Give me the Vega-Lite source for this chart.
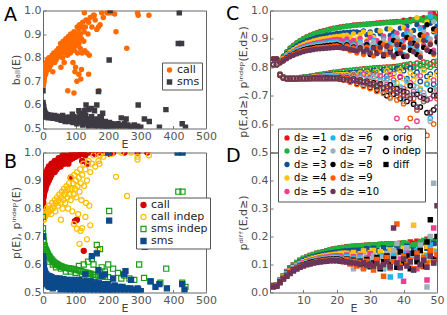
{
"$schema":"https://vega.github.io/schema/vega-lite/v6.json",
"padding":{"left":3,"top":3.5,"right":2,"bottom":1},
"config":{"font":"DejaVu Sans","view":{"stroke":"#666","strokeWidth":1},
"axis":{"grid":false,"domain":false,"labelFontSize":11,"labelColor":"#555","titleFontSize":11,"titleColor":"#444","titleFontWeight":"normal","tickColor":"#777","tickSize":-3,"labelPadding":5,"titlePadding":2,"labelFlush":false,"labelOverlap":false},
"axisX":{"titlePadding":-3},
"title":{"fontSize":19,"fontWeight":"normal","anchor":"start","color":"#000","offset":0,"baseline":"alphabetic","frame":"group"},
"legend":{"title":null,"strokeColor":"#555","fillColor":"#fff","labelFontSize":11,"labelColor":"#222","rowPadding":0,"columnPadding":0,"symbolOffset":0,"labelOffset":2,"cornerRadius":0}},
"columns":2,"spacing":{"row":0,"column":64},"bounds":"flush",
"resolve":{"scale":{"x":"independent","y":"independent","color":"independent","shape":"independent","fill":"independent","stroke":"independent"}},
"datasets":{
"A":[
{"s":"call","E":1,"b":0.68},{"s":"call","E":1,"b":0.70},{"s":"call","E":2,"b":0.69},{"s":"call","E":2,"b":0.72},{"s":"call","E":3,"b":0.70},{"s":"call","E":3,"b":0.74},{"s":"call","E":4,"b":0.71},{"s":"call","E":4,"b":0.75},{"s":"call","E":5,"b":0.72},{"s":"call","E":6,"b":0.73},{"s":"call","E":6,"b":0.76},{"s":"call","E":7,"b":0.74},{"s":"call","E":8,"b":0.73},{"s":"call","E":8,"b":0.77},{"s":"call","E":9,"b":0.75},{"s":"call","E":10,"b":0.74},{"s":"call","E":10,"b":0.78},{"s":"call","E":12,"b":0.75},{"s":"call","E":12,"b":0.77},{"s":"call","E":14,"b":0.76},{"s":"call","E":14,"b":0.79},{"s":"call","E":16,"b":0.75},{"s":"call","E":16,"b":0.78},{"s":"call","E":18,"b":0.77},{"s":"call","E":18,"b":0.80},{"s":"call","E":20,"b":0.76},{"s":"call","E":20,"b":0.79},{"s":"call","E":22,"b":0.78},{"s":"call","E":24,"b":0.77},{"s":"call","E":24,"b":0.80},{"s":"call","E":26,"b":0.79},{"s":"call","E":28,"b":0.78},{"s":"call","E":28,"b":0.81},{"s":"call","E":30,"b":0.74},{"s":"call","E":30,"b":0.80},{"s":"call","E":33,"b":0.79},{"s":"call","E":33,"b":0.82},{"s":"call","E":36,"b":0.80},{"s":"call","E":36,"b":0.78},{"s":"call","E":39,"b":0.81},{"s":"call","E":40,"b":0.79},{"s":"call","E":42,"b":0.83},{"s":"call","E":44,"b":0.80},{"s":"call","E":46,"b":0.82},{"s":"call","E":48,"b":0.84},{"s":"call","E":50,"b":0.81},{"s":"call","E":52,"b":0.83},{"s":"call","E":54,"b":0.86},{"s":"call","E":55,"b":0.76},{"s":"call","E":56,"b":0.82},{"s":"call","E":58,"b":0.85},{"s":"call","E":60,"b":0.84},{"s":"call","E":60,"b":0.80},{"s":"call","E":62,"b":0.87},{"s":"call","E":64,"b":0.83},{"s":"call","E":66,"b":0.86},{"s":"call","E":68,"b":0.82},{"s":"call","E":70,"b":0.85},{"s":"call","E":70,"b":0.88},{"s":"call","E":72,"b":0.84},{"s":"call","E":74,"b":0.87},{"s":"call","E":75,"b":0.81},{"s":"call","E":76,"b":0.85},{"s":"call","E":78,"b":0.89},{"s":"call","E":80,"b":0.83},{"s":"call","E":80,"b":0.86},{"s":"call","E":82,"b":0.88},{"s":"call","E":84,"b":0.82},{"s":"call","E":85,"b":0.90},{"s":"call","E":86,"b":0.85},{"s":"call","E":88,"b":0.87},{"s":"call","E":90,"b":0.84},{"s":"call","E":90,"b":0.89},{"s":"call","E":92,"b":0.78},{"s":"call","E":94,"b":0.86},{"s":"call","E":95,"b":0.91},{"s":"call","E":96,"b":0.83},{"s":"call","E":98,"b":0.88},{"s":"call","E":100,"b":0.85},{"s":"call","E":100,"b":0.76},{"s":"call","E":102,"b":0.90},{"s":"call","E":104,"b":0.87},{"s":"call","E":105,"b":0.93},{"s":"call","E":106,"b":0.82},{"s":"call","E":108,"b":0.89},{"s":"call","E":110,"b":0.86},{"s":"call","E":110,"b":0.92},{"s":"call","E":112,"b":0.94},{"s":"call","E":114,"b":0.84},{"s":"call","E":115,"b":0.90},{"s":"call","E":118,"b":0.88},{"s":"call","E":120,"b":0.93},{"s":"call","E":120,"b":0.82},{"s":"call","E":122,"b":0.95},{"s":"call","E":125,"b":0.87},{"s":"call","E":126,"b":0.91},{"s":"call","E":128,"b":0.83},{"s":"call","E":130,"b":0.93},{"s":"call","E":132,"b":0.96},{"s":"call","E":135,"b":0.82},{"s":"call","E":138,"b":0.90},{"s":"call","E":140,"b":0.95},{"s":"call","E":142,"b":0.81},{"s":"call","E":145,"b":0.97},{"s":"call","E":150,"b":0.93},{"s":"call","E":155,"b":0.98},{"s":"call","E":160,"b":0.96},{"s":"call","E":165,"b":0.92},{"s":"call","E":175,"b":0.94},{"s":"call","E":185,"b":0.97},
{"s":"call","E":76,"b":0.66},{"s":"call","E":95,"b":0.65},{"s":"call","E":172,"b":0.66},{"s":"call","E":104,"b":0.70},{"s":"call","E":116,"b":0.71},{"s":"call","E":110,"b":0.73},{"s":"call","E":140,"b":0.73},{"s":"call","E":224,"b":0.91},{"s":"call","E":257,"b":0.84},{"s":"call","E":127,"b":0.99},{"s":"call","E":157,"b":0.98},{"s":"call","E":196,"b":0.99},{"s":"call","E":200,"b":0.99},{"s":"call","E":205,"b":0.99},{"s":"call","E":212,"b":0.99},{"s":"call","E":220,"b":0.985},{"s":"call","E":290,"b":0.99},{"s":"call","E":292,"b":0.98},{"s":"call","E":325,"b":0.98},{"s":"call","E":98,"b":0.74},{"s":"call","E":65,"b":0.78},{"s":"call","E":118,"b":0.75},{"s":"call","E":170,"b":0.93},{"s":"call","E":180,"b":0.99},
{"s":"sms","E":0,"b":0.61},{"s":"sms","E":0,"b":0.59},{"s":"sms","E":0,"b":0.57},{"s":"sms","E":0,"b":0.55},{"s":"sms","E":1,"b":0.60},{"s":"sms","E":1,"b":0.58},{"s":"sms","E":1,"b":0.56},{"s":"sms","E":2,"b":0.59},{"s":"sms","E":2,"b":0.57},{"s":"sms","E":3,"b":0.58},{"s":"sms","E":3,"b":0.56},{"s":"sms","E":4,"b":0.575},{"s":"sms","E":5,"b":0.57},{"s":"sms","E":5,"b":0.555},{"s":"sms","E":7,"b":0.565},{"s":"sms","E":8,"b":0.55},{"s":"sms","E":10,"b":0.56},{"s":"sms","E":12,"b":0.55},{"s":"sms","E":14,"b":0.558},{"s":"sms","E":16,"b":0.545},{"s":"sms","E":18,"b":0.555},{"s":"sms","E":20,"b":0.548},{"s":"sms","E":23,"b":0.556},{"s":"sms","E":26,"b":0.545},{"s":"sms","E":29,"b":0.553},{"s":"sms","E":32,"b":0.543},{"s":"sms","E":35,"b":0.555},{"s":"sms","E":38,"b":0.545},{"s":"sms","E":41,"b":0.552},{"s":"sms","E":44,"b":0.54},{"s":"sms","E":47,"b":0.55},{"s":"sms","E":50,"b":0.54},{"s":"sms","E":53,"b":0.548},{"s":"sms","E":56,"b":0.535},{"s":"sms","E":59,"b":0.55},{"s":"sms","E":62,"b":0.54},{"s":"sms","E":65,"b":0.545},{"s":"sms","E":68,"b":0.53},{"s":"sms","E":71,"b":0.548},{"s":"sms","E":74,"b":0.537},{"s":"sms","E":77,"b":0.545},{"s":"sms","E":80,"b":0.53},{"s":"sms","E":83,"b":0.548},{"s":"sms","E":86,"b":0.535},{"s":"sms","E":89,"b":0.543},{"s":"sms","E":92,"b":0.525},{"s":"sms","E":95,"b":0.55},{"s":"sms","E":98,"b":0.535},{"s":"sms","E":101,"b":0.545},{"s":"sms","E":104,"b":0.52},{"s":"sms","E":107,"b":0.54},{"s":"sms","E":110,"b":0.53},{"s":"sms","E":113,"b":0.56},{"s":"sms","E":116,"b":0.525},{"s":"sms","E":119,"b":0.545},{"s":"sms","E":122,"b":0.515},{"s":"sms","E":125,"b":0.54},{"s":"sms","E":128,"b":0.53},{"s":"sms","E":131,"b":0.555},{"s":"sms","E":134,"b":0.52},{"s":"sms","E":137,"b":0.54},{"s":"sms","E":140,"b":0.51},{"s":"sms","E":143,"b":0.535},{"s":"sms","E":146,"b":0.525},{"s":"sms","E":149,"b":0.55},{"s":"sms","E":152,"b":0.515},{"s":"sms","E":155,"b":0.53},{"s":"sms","E":158,"b":0.505},{"s":"sms","E":161,"b":0.54},{"s":"sms","E":164,"b":0.52},{"s":"sms","E":167,"b":0.535},{"s":"sms","E":170,"b":0.51},{"s":"sms","E":173,"b":0.53},{"s":"sms","E":176,"b":0.515},{"s":"sms","E":179,"b":0.545},{"s":"sms","E":182,"b":0.505},{"s":"sms","E":185,"b":0.525},{"s":"sms","E":188,"b":0.51},{"s":"sms","E":191,"b":0.53},{"s":"sms","E":194,"b":0.50},{"s":"sms","E":197,"b":0.52},{"s":"sms","E":200,"b":0.51},{"s":"sms","E":204,"b":0.525},{"s":"sms","E":208,"b":0.505},{"s":"sms","E":212,"b":0.52},{"s":"sms","E":216,"b":0.50},{"s":"sms","E":220,"b":0.515},{"s":"sms","E":225,"b":0.505},{"s":"sms","E":230,"b":0.52},{"s":"sms","E":235,"b":0.50},{"s":"sms","E":240,"b":0.515},{"s":"sms","E":245,"b":0.505},{"s":"sms","E":250,"b":0.52},{"s":"sms","E":255,"b":0.50},{"s":"sms","E":260,"b":0.515},{"s":"sms","E":265,"b":0.505},{"s":"sms","E":270,"b":0.51},{"s":"sms","E":275,"b":0.50},{"s":"sms","E":280,"b":0.515},{"s":"sms","E":285,"b":0.505},{"s":"sms","E":290,"b":0.51},{"s":"sms","E":295,"b":0.50},{"s":"sms","E":300,"b":0.505},
{"s":"sms","E":0,"b":0.66},{"s":"sms","E":110,"b":0.575},{"s":"sms","E":118,"b":0.565},{"s":"sms","E":128,"b":0.575},{"s":"sms","E":132,"b":0.60},{"s":"sms","E":140,"b":0.58},{"s":"sms","E":148,"b":0.585},{"s":"sms","E":158,"b":0.575},{"s":"sms","E":165,"b":0.60},{"s":"sms","E":170,"b":0.657},{"s":"sms","E":183,"b":0.565},{"s":"sms","E":203,"b":0.79},{"s":"sms","E":206,"b":1.0},{"s":"sms","E":292,"b":0.60},{"s":"sms","E":377,"b":0.58},{"s":"sms","E":418,"b":0.99},{"s":"sms","E":415,"b":0.86},{"s":"sms","E":425,"b":0.86},{"s":"sms","E":427,"b":0.52},{"s":"sms","E":437,"b":0.505},{"s":"sms","E":357,"b":0.505},{"s":"sms","E":311,"b":0.54},{"s":"sms","E":326,"b":0.53},{"s":"sms","E":255,"b":0.54},{"s":"sms","E":240,"b":0.545},{"s":"sms","E":175,"b":0.55},{"s":"sms","E":60,"b":0.555},{"s":"sms","E":90,"b":0.56}
],
"B":[
{"s":"call","E":0,"p":0.80},{"s":"call","E":0,"p":0.83},{"s":"call","E":0,"p":0.85},{"s":"call","E":1,"p":0.82},{"s":"call","E":1,"p":0.86},{"s":"call","E":2,"p":0.84},{"s":"call","E":2,"p":0.88},{"s":"call","E":3,"p":0.85},{"s":"call","E":3,"p":0.89},{"s":"call","E":4,"p":0.87},{"s":"call","E":4,"p":0.90},{"s":"call","E":5,"p":0.86},{"s":"call","E":5,"p":0.91},{"s":"call","E":6,"p":0.88},{"s":"call","E":7,"p":0.89},{"s":"call","E":7,"p":0.92},{"s":"call","E":8,"p":0.87},{"s":"call","E":9,"p":0.90},{"s":"call","E":10,"p":0.88},{"s":"call","E":10,"p":0.93},{"s":"call","E":12,"p":0.90},{"s":"call","E":12,"p":0.92},{"s":"call","E":14,"p":0.89},{"s":"call","E":14,"p":0.94},{"s":"call","E":16,"p":0.91},{"s":"call","E":18,"p":0.90},{"s":"call","E":18,"p":0.95},{"s":"call","E":20,"p":0.92},{"s":"call","E":22,"p":0.91},{"s":"call","E":22,"p":0.94},{"s":"call","E":24,"p":0.93},{"s":"call","E":26,"p":0.92},{"s":"call","E":26,"p":0.96},{"s":"call","E":28,"p":0.94},{"s":"call","E":30,"p":0.93},{"s":"call","E":30,"p":0.96},{"s":"call","E":33,"p":0.95},{"s":"call","E":36,"p":0.93},{"s":"call","E":36,"p":0.97},{"s":"call","E":39,"p":0.95},{"s":"call","E":42,"p":0.94},{"s":"call","E":42,"p":0.97},{"s":"call","E":45,"p":0.96},{"s":"call","E":48,"p":0.95},{"s":"call","E":48,"p":0.98},{"s":"call","E":51,"p":0.96},{"s":"call","E":54,"p":0.97},{"s":"call","E":54,"p":0.95},{"s":"call","E":57,"p":0.98},{"s":"call","E":60,"p":0.96},{"s":"call","E":60,"p":0.99},{"s":"call","E":63,"p":0.97},{"s":"call","E":66,"p":0.98},{"s":"call","E":66,"p":0.96},{"s":"call","E":69,"p":0.99},{"s":"call","E":72,"p":0.97},{"s":"call","E":75,"p":0.985},{"s":"call","E":78,"p":0.96},{"s":"call","E":80,"p":0.99},{"s":"call","E":84,"p":0.975},{"s":"call","E":88,"p":0.995},{"s":"call","E":92,"p":0.98},{"s":"call","E":96,"p":1.0},{"s":"call","E":100,"p":0.985},{"s":"call","E":105,"p":0.995},{"s":"call","E":110,"p":0.99},{"s":"call","E":115,"p":1.0},{"s":"call","E":120,"p":0.995},{"s":"call","E":125,"p":1.0},{"s":"call","E":130,"p":0.99},{"s":"call","E":140,"p":1.0},{"s":"call","E":150,"p":1.0},{"s":"call","E":160,"p":0.995},{"s":"call","E":175,"p":1.0},{"s":"call","E":190,"p":1.0},
{"s":"call","E":125,"p":0.649},{"s":"call","E":104,"p":0.76},{"s":"call","E":98,"p":0.755},{"s":"call","E":85,"p":0.91},{"s":"call","E":136,"p":0.96},{"s":"call","E":120,"p":0.97},{"s":"call","E":180,"p":1.0},{"s":"call","E":250,"p":1.0},{"s":"call","E":290,"p":1.0},{"s":"call","E":320,"p":1.0},{"s":"call","E":205,"p":0.995},{"s":"call","E":215,"p":1.0},
{"s":"call indep","E":1,"p":0.76},{"s":"call indep","E":2,"p":0.77},{"s":"call indep","E":3,"p":0.76},{"s":"call indep","E":5,"p":0.78},{"s":"call indep","E":6,"p":0.77},{"s":"call indep","E":8,"p":0.79},{"s":"call indep","E":10,"p":0.78},{"s":"call indep","E":12,"p":0.80},{"s":"call indep","E":14,"p":0.78},{"s":"call indep","E":16,"p":0.79},{"s":"call indep","E":18,"p":0.81},{"s":"call indep","E":20,"p":0.79},{"s":"call indep","E":22,"p":0.80},{"s":"call indep","E":25,"p":0.78},{"s":"call indep","E":28,"p":0.82},{"s":"call indep","E":30,"p":0.80},{"s":"call indep","E":33,"p":0.81},{"s":"call indep","E":36,"p":0.83},{"s":"call indep","E":38,"p":0.79},{"s":"call indep","E":40,"p":0.82},{"s":"call indep","E":43,"p":0.84},{"s":"call indep","E":46,"p":0.81},{"s":"call indep","E":48,"p":0.83},{"s":"call indep","E":50,"p":0.85},{"s":"call indep","E":53,"p":0.82},{"s":"call indep","E":55,"p":0.76},{"s":"call indep","E":56,"p":0.84},{"s":"call indep","E":58,"p":0.86},{"s":"call indep","E":60,"p":0.80},{"s":"call indep","E":62,"p":0.83},{"s":"call indep","E":64,"p":0.87},{"s":"call indep","E":66,"p":0.85},{"s":"call indep","E":68,"p":0.82},{"s":"call indep","E":70,"p":0.86},{"s":"call indep","E":72,"p":0.88},{"s":"call indep","E":75,"p":0.84},{"s":"call indep","E":77,"p":0.80},{"s":"call indep","E":78,"p":0.87},{"s":"call indep","E":80,"p":0.89},{"s":"call indep","E":82,"p":0.85},{"s":"call indep","E":85,"p":0.83},{"s":"call indep","E":86,"p":0.91},{"s":"call indep","E":88,"p":0.87},{"s":"call indep","E":90,"p":0.79},{"s":"call indep","E":92,"p":0.89},{"s":"call indep","E":94,"p":0.85},{"s":"call indep","E":96,"p":0.92},{"s":"call indep","E":98,"p":0.87},{"s":"call indep","E":100,"p":0.90},{"s":"call indep","E":102,"p":0.84},{"s":"call indep","E":104,"p":0.93},{"s":"call indep","E":106,"p":0.88},{"s":"call indep","E":108,"p":0.78},{"s":"call indep","E":110,"p":0.91},{"s":"call indep","E":112,"p":0.86},{"s":"call indep","E":114,"p":0.94},{"s":"call indep","E":116,"p":0.89},{"s":"call indep","E":118,"p":0.83},{"s":"call indep","E":120,"p":0.92},{"s":"call indep","E":124,"p":0.96},{"s":"call indep","E":126,"p":0.88},{"s":"call indep","E":130,"p":0.94},{"s":"call indep","E":132,"p":0.82},{"s":"call indep","E":135,"p":0.90},{"s":"call indep","E":140,"p":0.97},{"s":"call indep","E":142,"p":0.81},{"s":"call indep","E":145,"p":0.93},{"s":"call indep","E":150,"p":0.96},{"s":"call indep","E":155,"p":0.99},{"s":"call indep","E":160,"p":0.95},{"s":"call indep","E":170,"p":0.97},{"s":"call indep","E":175,"p":0.99},{"s":"call indep","E":185,"p":0.985},{"s":"call indep","E":195,"p":1.0},{"s":"call indep","E":210,"p":0.995},
{"s":"call indep","E":112,"p":0.674},{"s":"call indep","E":135,"p":0.69},{"s":"call indep","E":170,"p":0.655},{"s":"call indep","E":104,"p":0.728},{"s":"call indep","E":115,"p":0.72},{"s":"call indep","E":145,"p":0.74},{"s":"call indep","E":224,"p":0.913},{"s":"call indep","E":258,"p":0.845},{"s":"call indep","E":173,"p":0.96},{"s":"call indep","E":290,"p":0.985},{"s":"call indep","E":290,"p":0.975},{"s":"call indep","E":325,"p":0.99},{"s":"call indep","E":240,"p":1.0},{"s":"call indep","E":270,"p":1.0},{"s":"call indep","E":120,"p":0.73},{"s":"call indep","E":95,"p":0.745},{"s":"call indep","E":130,"p":0.77},
{"s":"sms indep","E":0,"p":0.77},{"s":"sms indep","E":0,"p":0.71},{"s":"sms indep","E":0,"p":0.73},{"s":"sms indep","E":1,"p":0.70},{"s":"sms indep","E":2,"p":0.685},{"s":"sms indep","E":3,"p":0.68},{"s":"sms indep","E":4,"p":0.67},{"s":"sms indep","E":5,"p":0.665},{"s":"sms indep","E":6,"p":0.66},{"s":"sms indep","E":8,"p":0.655},{"s":"sms indep","E":10,"p":0.65},{"s":"sms indep","E":12,"p":0.645},{"s":"sms indep","E":14,"p":0.64},{"s":"sms indep","E":16,"p":0.635},{"s":"sms indep","E":18,"p":0.63},{"s":"sms indep","E":20,"p":0.628},{"s":"sms indep","E":23,"p":0.622},{"s":"sms indep","E":26,"p":0.618},{"s":"sms indep","E":29,"p":0.614},{"s":"sms indep","E":32,"p":0.61},{"s":"sms indep","E":35,"p":0.607},{"s":"sms indep","E":38,"p":0.604},{"s":"sms indep","E":41,"p":0.602},{"s":"sms indep","E":44,"p":0.60},{"s":"sms indep","E":47,"p":0.598},{"s":"sms indep","E":50,"p":0.596},{"s":"sms indep","E":54,"p":0.594},{"s":"sms indep","E":58,"p":0.592},{"s":"sms indep","E":62,"p":0.59},{"s":"sms indep","E":66,"p":0.589},{"s":"sms indep","E":70,"p":0.588},{"s":"sms indep","E":75,"p":0.587},{"s":"sms indep","E":80,"p":0.586},{"s":"sms indep","E":85,"p":0.585},{"s":"sms indep","E":90,"p":0.584},{"s":"sms indep","E":95,"p":0.583},{"s":"sms indep","E":100,"p":0.582},{"s":"sms indep","E":106,"p":0.58},{"s":"sms indep","E":112,"p":0.578},{"s":"sms indep","E":118,"p":0.576},{"s":"sms indep","E":124,"p":0.574},{"s":"sms indep","E":130,"p":0.572},{"s":"sms indep","E":136,"p":0.57},{"s":"sms indep","E":142,"p":0.568},{"s":"sms indep","E":148,"p":0.566},{"s":"sms indep","E":154,"p":0.564},{"s":"sms indep","E":160,"p":0.562},{"s":"sms indep","E":170,"p":0.56},{"s":"sms indep","E":180,"p":0.558},{"s":"sms indep","E":190,"p":0.556},{"s":"sms indep","E":200,"p":0.555},
{"s":"sms indep","E":10,"p":0.63},{"s":"sms indep","E":20,"p":0.61},{"s":"sms indep","E":30,"p":0.60},{"s":"sms indep","E":40,"p":0.59},{"s":"sms indep","E":55,"p":0.585},{"s":"sms indep","E":70,"p":0.575},{"s":"sms indep","E":85,"p":0.575},{"s":"sms indep","E":100,"p":0.57},{"s":"sms indep","E":120,"p":0.565},{"s":"sms indep","E":140,"p":0.56},{"s":"sms indep","E":160,"p":0.555},
{"s":"sms indep","E":203,"p":0.791},{"s":"sms indep","E":415,"p":0.86},{"s":"sms indep","E":428,"p":0.86},{"s":"sms indep","E":165,"p":0.67},{"s":"sms indep","E":175,"p":0.655},{"s":"sms indep","E":295,"p":0.60},{"s":"sms indep","E":378,"p":0.585},{"s":"sms indep","E":138,"p":0.61},{"s":"sms indep","E":150,"p":0.62},{"s":"sms indep","E":125,"p":0.60},{"s":"sms indep","E":110,"p":0.595},{"s":"sms indep","E":180,"p":0.59},{"s":"sms indep","E":190,"p":0.575},{"s":"sms indep","E":215,"p":0.585},{"s":"sms indep","E":230,"p":0.57},{"s":"sms indep","E":250,"p":0.56},{"s":"sms indep","E":265,"p":0.55},{"s":"sms indep","E":280,"p":0.545},{"s":"sms indep","E":310,"p":0.552},{"s":"sms indep","E":330,"p":0.54},{"s":"sms indep","E":437,"p":0.52},{"s":"sms indep","E":427,"p":0.535},{"s":"sms indep","E":360,"p":0.535},{"s":"sms indep","E":240,"p":0.55},{"s":"sms indep","E":200,"p":0.60},{"s":"sms indep","E":155,"p":0.60},
{"s":"sms","E":0,"p":0.70},{"s":"sms","E":0,"p":0.63},{"s":"sms","E":0,"p":0.61},{"s":"sms","E":0,"p":0.59},{"s":"sms","E":0,"p":0.57},{"s":"sms","E":1,"p":0.62},{"s":"sms","E":1,"p":0.58},{"s":"sms","E":2,"p":0.60},{"s":"sms","E":2,"p":0.56},{"s":"sms","E":3,"p":0.59},{"s":"sms","E":3,"p":0.55},{"s":"sms","E":4,"p":0.58},{"s":"sms","E":5,"p":0.575},{"s":"sms","E":5,"p":0.545},{"s":"sms","E":7,"p":0.57},{"s":"sms","E":8,"p":0.54},{"s":"sms","E":10,"p":0.565},{"s":"sms","E":10,"p":0.53},{"s":"sms","E":12,"p":0.55},{"s":"sms","E":14,"p":0.56},{"s":"sms","E":15,"p":0.525},{"s":"sms","E":17,"p":0.55},{"s":"sms","E":20,"p":0.558},{"s":"sms","E":20,"p":0.52},{"s":"sms","E":23,"p":0.545},{"s":"sms","E":26,"p":0.555},{"s":"sms","E":28,"p":0.53},{"s":"sms","E":30,"p":0.515},{"s":"sms","E":33,"p":0.55},{"s":"sms","E":36,"p":0.535},{"s":"sms","E":39,"p":0.55},{"s":"sms","E":42,"p":0.52},{"s":"sms","E":45,"p":0.545},{"s":"sms","E":48,"p":0.53},{"s":"sms","E":51,"p":0.55},{"s":"sms","E":54,"p":0.51},{"s":"sms","E":57,"p":0.54},{"s":"sms","E":60,"p":0.525},{"s":"sms","E":63,"p":0.548},{"s":"sms","E":66,"p":0.515},{"s":"sms","E":69,"p":0.54},{"s":"sms","E":72,"p":0.505},{"s":"sms","E":75,"p":0.545},{"s":"sms","E":78,"p":0.525},{"s":"sms","E":81,"p":0.54},{"s":"sms","E":84,"p":0.51},{"s":"sms","E":87,"p":0.545},{"s":"sms","E":90,"p":0.52},{"s":"sms","E":93,"p":0.54},{"s":"sms","E":96,"p":0.505},{"s":"sms","E":99,"p":0.545},{"s":"sms","E":102,"p":0.525},{"s":"sms","E":105,"p":0.54},{"s":"sms","E":108,"p":0.51},{"s":"sms","E":111,"p":0.545},{"s":"sms","E":114,"p":0.52},{"s":"sms","E":117,"p":0.535},{"s":"sms","E":120,"p":0.505},{"s":"sms","E":123,"p":0.54},{"s":"sms","E":126,"p":0.525},{"s":"sms","E":129,"p":0.535},{"s":"sms","E":132,"p":0.51},{"s":"sms","E":135,"p":0.54},{"s":"sms","E":138,"p":0.52},{"s":"sms","E":141,"p":0.535},{"s":"sms","E":144,"p":0.505},{"s":"sms","E":147,"p":0.54},{"s":"sms","E":150,"p":0.52},{"s":"sms","E":153,"p":0.53},{"s":"sms","E":156,"p":0.50},{"s":"sms","E":159,"p":0.535},{"s":"sms","E":162,"p":0.515},{"s":"sms","E":165,"p":0.53},{"s":"sms","E":168,"p":0.505},{"s":"sms","E":171,"p":0.535},{"s":"sms","E":174,"p":0.515},{"s":"sms","E":177,"p":0.525},{"s":"sms","E":180,"p":0.50},{"s":"sms","E":184,"p":0.53},{"s":"sms","E":188,"p":0.51},{"s":"sms","E":192,"p":0.525},{"s":"sms","E":196,"p":0.50},{"s":"sms","E":200,"p":0.53},{"s":"sms","E":205,"p":0.51},{"s":"sms","E":210,"p":0.52},{"s":"sms","E":215,"p":0.50},{"s":"sms","E":220,"p":0.525},{"s":"sms","E":226,"p":0.505},{"s":"sms","E":232,"p":0.52},{"s":"sms","E":238,"p":0.50},{"s":"sms","E":244,"p":0.52},{"s":"sms","E":250,"p":0.505},{"s":"sms","E":256,"p":0.515},{"s":"sms","E":262,"p":0.50},{"s":"sms","E":268,"p":0.515},{"s":"sms","E":274,"p":0.505},{"s":"sms","E":280,"p":0.51},{"s":"sms","E":286,"p":0.50},{"s":"sms","E":292,"p":0.51},{"s":"sms","E":300,"p":0.505},
{"s":"sms","E":203,"p":0.757},{"s":"sms","E":312,"p":0.663},{"s":"sms","E":165,"p":0.64},{"s":"sms","E":150,"p":0.63},{"s":"sms","E":253,"p":0.576},{"s":"sms","E":248,"p":0.565},{"s":"sms","E":413,"p":1.0},{"s":"sms","E":428,"p":1.0},{"s":"sms","E":200,"p":1.0},{"s":"sms","E":427,"p":0.53},{"s":"sms","E":434,"p":0.51},{"s":"sms","E":357,"p":0.53},{"s":"sms","E":290,"p":0.515},{"s":"sms","E":180,"p":0.56},{"s":"sms","E":190,"p":0.565},{"s":"sms","E":170,"p":0.58},{"s":"sms","E":130,"p":0.565},{"s":"sms","E":215,"p":0.55},{"s":"sms","E":270,"p":0.545},{"s":"sms","E":330,"p":0.54},{"s":"sms","E":345,"p":0.52},{"s":"sms","E":380,"p":0.515}
],
"CD":[
{"d":1,"E":1,"o":0.83,"i":0.81,"f":0.025},{"d":1,"E":2,"o":0.83,"i":0.81,"f":0.028},{"d":1,"E":3,"o":0.824,"i":0.776,"f":0.045},{"d":1,"E":4,"o":0.84,"i":0.766,"f":0.06},{"d":1,"E":5,"o":0.855,"i":0.763,"f":0.075},{"d":1,"E":6,"o":0.868,"i":0.762,"f":0.088},{"d":1,"E":7,"o":0.878,"i":0.762,"f":0.098},{"d":1,"E":8,"o":0.887,"i":0.763,"f":0.107},{"d":1,"E":9,"o":0.895,"i":0.764,"f":0.115},{"d":1,"E":10,"o":0.902,"i":0.765,"f":0.122},{"d":1,"E":11,"o":0.908,"i":0.766,"f":0.127},{"d":1,"E":12,"o":0.913,"i":0.768,"f":0.132},{"d":1,"E":13,"o":0.918,"i":0.77,"f":0.136},{"d":1,"E":14,"o":0.922,"i":0.772,"f":0.14},{"d":1,"E":15,"o":0.926,"i":0.774,"f":0.143},{"d":1,"E":16,"o":0.929,"i":0.776,"f":0.146},{"d":1,"E":17,"o":0.932,"i":0.778,"f":0.149},{"d":1,"E":18,"o":0.935,"i":0.78,"f":0.152},{"d":1,"E":19,"o":0.938,"i":0.782,"f":0.155},{"d":1,"E":20,"o":0.94,"i":0.783,"f":0.157},{"d":1,"E":21,"o":0.942,"i":0.785,"f":0.159},{"d":1,"E":22,"o":0.944,"i":0.787,"f":0.161},{"d":1,"E":23,"o":0.946,"i":0.788,"f":0.163},{"d":1,"E":24,"o":0.947,"i":0.789,"f":0.164},{"d":1,"E":25,"o":0.949,"i":0.79,"f":0.165},{"d":1,"E":26,"o":0.95,"i":0.792,"f":0.166},{"d":1,"E":27,"o":0.951,"i":0.793,"f":0.167},{"d":1,"E":28,"o":0.952,"i":0.794,"f":0.168},{"d":1,"E":29,"o":0.953,"i":0.795,"f":0.169},{"d":1,"E":30,"o":0.954,"i":0.796,"f":0.17},{"d":1,"E":31,"o":0.955,"i":0.797,"f":0.171},{"d":1,"E":32,"o":0.956,"i":0.798,"f":0.171},{"d":1,"E":33,"o":0.957,"i":0.799,"f":0.172},{"d":1,"E":34,"o":0.958,"i":0.8,"f":0.172},{"d":1,"E":35,"o":0.959,"i":0.801,"f":0.173},{"d":1,"E":36,"o":0.96,"i":0.801,"f":0.173},{"d":1,"E":37,"o":0.961,"i":0.802,"f":0.174},{"d":1,"E":38,"o":0.962,"i":0.803,"f":0.174},{"d":1,"E":39,"o":0.96,"i":0.8,"f":0.176},{"d":1,"E":40,"o":0.966,"i":0.808,"f":0.172},{"d":1,"E":41,"o":0.963,"i":0.804,"f":0.168},{"d":1,"E":42,"o":0.969,"i":0.812,"f":0.18},{"d":1,"E":43,"o":0.965,"i":0.801,"f":0.176},{"d":1,"E":44,"o":0.972,"i":0.815,"f":0.183},{"d":1,"E":45,"o":0.967,"i":0.806,"f":0.165},{"d":1,"E":46,"o":0.975,"i":0.818,"f":0.178},{"d":1,"E":47,"o":0.969,"i":0.803,"f":0.19},{"d":1,"E":48,"o":0.978,"i":0.812,"f":0.172},{"d":1,"E":49,"o":0.99,"i":0.82,"f":0.185},{"d":1,"E":50,"o":0.98,"i":0.807,"f":0.178},
{"d":2,"E":1,"o":0.83,"i":0.81,"f":0.025},{"d":2,"E":2,"o":0.83,"i":0.81,"f":0.028},{"d":2,"E":3,"o":0.823,"i":0.776,"f":0.045},{"d":2,"E":4,"o":0.839,"i":0.766,"f":0.06},{"d":2,"E":5,"o":0.854,"i":0.763,"f":0.074},{"d":2,"E":6,"o":0.867,"i":0.762,"f":0.087},{"d":2,"E":7,"o":0.877,"i":0.762,"f":0.097},{"d":2,"E":8,"o":0.886,"i":0.763,"f":0.106},{"d":2,"E":9,"o":0.894,"i":0.764,"f":0.114},{"d":2,"E":10,"o":0.901,"i":0.765,"f":0.121},{"d":2,"E":11,"o":0.907,"i":0.766,"f":0.126},{"d":2,"E":12,"o":0.911,"i":0.768,"f":0.131},{"d":2,"E":13,"o":0.916,"i":0.77,"f":0.135},{"d":2,"E":14,"o":0.92,"i":0.772,"f":0.139},{"d":2,"E":15,"o":0.924,"i":0.774,"f":0.142},{"d":2,"E":16,"o":0.927,"i":0.776,"f":0.145},{"d":2,"E":17,"o":0.93,"i":0.777,"f":0.148},{"d":2,"E":18,"o":0.933,"i":0.779,"f":0.151},{"d":2,"E":19,"o":0.936,"i":0.781,"f":0.154},{"d":2,"E":20,"o":0.938,"i":0.782,"f":0.156},{"d":2,"E":21,"o":0.94,"i":0.784,"f":0.158},{"d":2,"E":22,"o":0.942,"i":0.786,"f":0.16},{"d":2,"E":23,"o":0.944,"i":0.787,"f":0.162},{"d":2,"E":24,"o":0.945,"i":0.788,"f":0.163},{"d":2,"E":25,"o":0.947,"i":0.789,"f":0.164},{"d":2,"E":26,"o":0.948,"i":0.79,"f":0.165},{"d":2,"E":27,"o":0.949,"i":0.792,"f":0.166},{"d":2,"E":28,"o":0.95,"i":0.793,"f":0.167},{"d":2,"E":29,"o":0.951,"i":0.794,"f":0.168},{"d":2,"E":30,"o":0.952,"i":0.795,"f":0.169},{"d":2,"E":31,"o":0.953,"i":0.796,"f":0.17},{"d":2,"E":32,"o":0.954,"i":0.796,"f":0.17},{"d":2,"E":33,"o":0.955,"i":0.797,"f":0.171},{"d":2,"E":34,"o":0.956,"i":0.798,"f":0.171},{"d":2,"E":35,"o":0.957,"i":0.799,"f":0.172},{"d":2,"E":36,"o":0.958,"i":0.8,"f":0.172},{"d":2,"E":37,"o":0.958,"i":0.8,"f":0.173},{"d":2,"E":38,"o":0.959,"i":0.801,"f":0.173},{"d":2,"E":39,"o":0.962,"i":0.806,"f":0.17},{"d":2,"E":40,"o":0.958,"i":0.799,"f":0.178},{"d":2,"E":41,"o":0.965,"i":0.81,"f":0.175},{"d":2,"E":42,"o":0.96,"i":0.796,"f":0.166},{"d":2,"E":43,"o":0.968,"i":0.809,"f":0.17},{"d":2,"E":44,"o":0.962,"i":0.798,"f":0.172},{"d":2,"E":45,"o":0.971,"i":0.812,"f":0.181},{"d":2,"E":46,"o":0.964,"i":0.795,"f":0.186},{"d":2,"E":47,"o":0.974,"i":0.816,"f":0.168},{"d":2,"E":48,"o":0.967,"i":0.8,"f":0.195},{"d":2,"E":49,"o":0.977,"i":0.808,"f":0.176},{"d":2,"E":50,"o":0.97,"i":0.822,"f":0.188},
{"d":3,"E":1,"o":0.83,"i":0.81,"f":0.024},{"d":3,"E":2,"o":0.83,"i":0.81,"f":0.027},{"d":3,"E":3,"o":0.821,"i":0.775,"f":0.042},{"d":3,"E":4,"o":0.835,"i":0.765,"f":0.056},{"d":3,"E":5,"o":0.848,"i":0.762,"f":0.07},{"d":3,"E":6,"o":0.859,"i":0.761,"f":0.082},{"d":3,"E":7,"o":0.867,"i":0.761,"f":0.092},{"d":3,"E":8,"o":0.875,"i":0.762,"f":0.1},{"d":3,"E":9,"o":0.882,"i":0.763,"f":0.108},{"d":3,"E":10,"o":0.888,"i":0.764,"f":0.114},{"d":3,"E":11,"o":0.893,"i":0.764,"f":0.119},{"d":3,"E":12,"o":0.897,"i":0.766,"f":0.123},{"d":3,"E":13,"o":0.901,"i":0.767,"f":0.127},{"d":3,"E":14,"o":0.905,"i":0.768,"f":0.13},{"d":3,"E":15,"o":0.908,"i":0.77,"f":0.133},{"d":3,"E":16,"o":0.91,"i":0.771,"f":0.136},{"d":3,"E":17,"o":0.913,"i":0.773,"f":0.138},{"d":3,"E":18,"o":0.915,"i":0.774,"f":0.14},{"d":3,"E":19,"o":0.917,"i":0.775,"f":0.142},{"d":3,"E":20,"o":0.919,"i":0.776,"f":0.144},{"d":3,"E":21,"o":0.92,"i":0.777,"f":0.146},{"d":3,"E":22,"o":0.922,"i":0.778,"f":0.147},{"d":3,"E":23,"o":0.923,"i":0.779,"f":0.148},{"d":3,"E":24,"o":0.924,"i":0.78,"f":0.149},{"d":3,"E":25,"o":0.925,"i":0.781,"f":0.15},{"d":3,"E":26,"o":0.925,"i":0.781,"f":0.15},{"d":3,"E":27,"o":0.922,"i":0.783,"f":0.151},{"d":3,"E":28,"o":0.928,"i":0.78,"f":0.146},{"d":3,"E":29,"o":0.915,"i":0.786,"f":0.156},{"d":3,"E":30,"o":0.925,"i":0.776,"f":0.142},{"d":3,"E":31,"o":0.91,"i":0.789,"f":0.158},{"d":3,"E":32,"o":0.93,"i":0.772,"f":0.15},{"d":3,"E":33,"o":0.918,"i":0.784,"f":0.138},{"d":3,"E":34,"o":0.905,"i":0.791,"f":0.16},{"d":3,"E":35,"o":0.935,"i":0.77,"f":0.145},{"d":3,"E":36,"o":0.912,"i":0.786,"f":0.155},{"d":3,"E":37,"o":0.925,"i":0.778,"f":0.132},{"d":3,"E":38,"o":0.9,"i":0.795,"f":0.162},{"d":3,"E":39,"o":0.938,"i":0.765,"f":0.148},{"d":3,"E":40,"o":0.915,"i":0.788,"f":0.128},{"d":3,"E":41,"o":0.945,"i":0.76,"f":0.165},{"d":3,"E":42,"o":0.905,"i":0.797,"f":0.14},{"d":3,"E":43,"o":0.93,"i":0.772,"f":0.152},{"d":3,"E":44,"o":0.95,"i":0.782,"f":0.125},{"d":3,"E":45,"o":0.912,"i":0.75,"f":0.17},{"d":3,"E":46,"o":0.94,"i":0.79,"f":0.135},{"d":3,"E":47,"o":0.895,"i":0.768,"f":0.158},{"d":3,"E":48,"o":0.955,"i":0.776,"f":0.145},{"d":3,"E":49,"o":0.925,"i":0.74,"f":0.175},{"d":3,"E":50,"o":0.945,"i":0.785,"f":0.13},
{"d":4,"E":1,"o":0.83,"i":0.81,"f":0.024},{"d":4,"E":2,"o":0.83,"i":0.81,"f":0.027},{"d":4,"E":3,"o":0.82,"i":0.775,"f":0.041},{"d":4,"E":4,"o":0.832,"i":0.764,"f":0.055},{"d":4,"E":5,"o":0.844,"i":0.762,"f":0.067},{"d":4,"E":6,"o":0.854,"i":0.761,"f":0.079},{"d":4,"E":7,"o":0.862,"i":0.761,"f":0.089},{"d":4,"E":8,"o":0.869,"i":0.762,"f":0.097},{"d":4,"E":9,"o":0.875,"i":0.762,"f":0.104},{"d":4,"E":10,"o":0.881,"i":0.763,"f":0.11},{"d":4,"E":11,"o":0.886,"i":0.763,"f":0.114},{"d":4,"E":12,"o":0.889,"i":0.764,"f":0.119},{"d":4,"E":13,"o":0.893,"i":0.766,"f":0.122},{"d":4,"E":14,"o":0.896,"i":0.767,"f":0.125},{"d":4,"E":15,"o":0.899,"i":0.768,"f":0.128},{"d":4,"E":16,"o":0.901,"i":0.769,"f":0.13},{"d":4,"E":17,"o":0.903,"i":0.77,"f":0.132},{"d":4,"E":18,"o":0.905,"i":0.771,"f":0.134},{"d":4,"E":19,"o":0.907,"i":0.772,"f":0.136},{"d":4,"E":20,"o":0.909,"i":0.773,"f":0.137},{"d":4,"E":21,"o":0.91,"i":0.774,"f":0.139},{"d":4,"E":22,"o":0.912,"i":0.774,"f":0.14},{"d":4,"E":23,"o":0.913,"i":0.775,"f":0.14},{"d":4,"E":24,"o":0.905,"i":0.77,"f":0.136},{"d":4,"E":25,"o":0.918,"i":0.778,"f":0.143},{"d":4,"E":26,"o":0.9,"i":0.768,"f":0.132},{"d":4,"E":27,"o":0.915,"i":0.78,"f":0.138},{"d":4,"E":28,"o":0.925,"i":0.765,"f":0.148},{"d":4,"E":29,"o":0.895,"i":0.782,"f":0.125},{"d":4,"E":30,"o":0.92,"i":0.772,"f":0.142},{"d":4,"E":31,"o":0.905,"i":0.76,"f":0.15},{"d":4,"E":32,"o":0.89,"i":0.785,"f":0.118},{"d":4,"E":33,"o":0.928,"i":0.77,"f":0.146},{"d":4,"E":34,"o":0.91,"i":0.752,"f":0.135},{"d":4,"E":35,"o":0.885,"i":0.788,"f":0.112},{"d":4,"E":36,"o":0.935,"i":0.765,"f":0.152},{"d":4,"E":37,"o":0.9,"i":0.775,"f":0.128},{"d":4,"E":38,"o":0.92,"i":0.745,"f":0.14},{"d":4,"E":39,"o":0.88,"i":0.79,"f":0.105},{"d":4,"E":40,"o":0.94,"i":0.76,"f":0.158},{"d":4,"E":41,"o":0.905,"i":0.735,"f":0.13},{"d":4,"E":42,"o":0.925,"i":0.78,"f":0.12},{"d":4,"E":43,"o":0.875,"i":0.755,"f":0.24},{"d":4,"E":44,"o":0.975,"i":0.77,"f":0.145},{"d":4,"E":45,"o":0.895,"i":0.725,"f":0.1},{"d":4,"E":46,"o":0.915,"i":0.79,"f":0.135},{"d":4,"E":47,"o":0.96,"i":0.745,"f":0.165},{"d":4,"E":48,"o":0.885,"i":0.765,"f":0.115},{"d":4,"E":49,"o":0.93,"i":0.715,"f":0.15},{"d":4,"E":50,"o":0.905,"i":0.775,"f":0.125},
{"d":5,"E":1,"o":0.83,"i":0.81,"f":0.023},{"d":5,"E":2,"o":0.83,"i":0.81,"f":0.026},{"d":5,"E":3,"o":0.819,"i":0.774,"f":0.04},{"d":5,"E":4,"o":0.829,"i":0.764,"f":0.053},{"d":5,"E":5,"o":0.84,"i":0.761,"f":0.065},{"d":5,"E":6,"o":0.849,"i":0.761,"f":0.076},{"d":5,"E":7,"o":0.856,"i":0.761,"f":0.085},{"d":5,"E":8,"o":0.863,"i":0.761,"f":0.093},{"d":5,"E":9,"o":0.869,"i":0.762,"f":0.1},{"d":5,"E":10,"o":0.874,"i":0.762,"f":0.106},{"d":5,"E":11,"o":0.878,"i":0.762,"f":0.11},{"d":5,"E":12,"o":0.881,"i":0.763,"f":0.114},{"d":5,"E":13,"o":0.884,"i":0.764,"f":0.117},{"d":5,"E":14,"o":0.887,"i":0.765,"f":0.12},{"d":5,"E":15,"o":0.889,"i":0.766,"f":0.123},{"d":5,"E":16,"o":0.891,"i":0.766,"f":0.125},{"d":5,"E":17,"o":0.893,"i":0.767,"f":0.127},{"d":5,"E":18,"o":0.895,"i":0.768,"f":0.129},{"d":5,"E":19,"o":0.897,"i":0.769,"f":0.13},{"d":5,"E":20,"o":0.898,"i":0.769,"f":0.131},{"d":5,"E":21,"o":0.897,"i":0.768,"f":0.13},{"d":5,"E":22,"o":0.893,"i":0.765,"f":0.126},{"d":5,"E":23,"o":0.9,"i":0.77,"f":0.134},{"d":5,"E":24,"o":0.888,"i":0.762,"f":0.12},{"d":5,"E":25,"o":0.895,"i":0.772,"f":0.128},{"d":5,"E":26,"o":0.882,"i":0.758,"f":0.115},{"d":5,"E":27,"o":0.902,"i":0.768,"f":0.132},{"d":5,"E":28,"o":0.876,"i":0.775,"f":0.11},{"d":5,"E":29,"o":0.89,"i":0.752,"f":0.125},{"d":5,"E":30,"o":0.905,"i":0.765,"f":0.138},{"d":5,"E":31,"o":0.87,"i":0.778,"f":0.105},{"d":5,"E":32,"o":0.895,"i":0.745,"f":0.122},{"d":5,"E":33,"o":0.88,"i":0.77,"f":0.095},{"d":5,"E":34,"o":0.91,"i":0.76,"f":0.13},{"d":5,"E":35,"o":0.865,"i":0.74,"f":0.115},{"d":5,"E":36,"o":0.9,"i":0.775,"f":0.088},{"d":5,"E":37,"o":0.885,"i":0.755,"f":0.14},{"d":5,"E":38,"o":0.92,"i":0.62,"f":0.105},{"d":5,"E":39,"o":0.86,"i":0.768,"f":0.12},{"d":5,"E":40,"o":0.895,"i":0.725,"f":0.04},{"d":5,"E":41,"o":0.93,"i":0.585,"f":0.15},{"d":5,"E":42,"o":0.87,"i":0.745,"f":0.098},{"d":5,"E":43,"o":0.905,"i":0.715,"f":0.13},{"d":5,"E":44,"o":0.85,"i":0.61,"f":0.085},{"d":5,"E":45,"o":0.94,"i":0.77,"f":0.16},{"d":5,"E":46,"o":0.88,"i":0.7,"f":0.11},{"d":5,"E":47,"o":0.915,"i":0.74,"f":0.045},{"d":5,"E":48,"o":0.99,"i":0.69,"f":0.14},{"d":5,"E":49,"o":0.86,"i":0.755,"f":0.23},{"d":5,"E":50,"o":0.925,"i":0.72,"f":0.12},
{"d":6,"E":1,"o":0.83,"i":0.81,"f":0.023},{"d":6,"E":2,"o":0.83,"i":0.81,"f":0.025},{"d":6,"E":3,"o":0.818,"i":0.774,"f":0.04},{"d":6,"E":4,"o":0.827,"i":0.763,"f":0.052},{"d":6,"E":5,"o":0.838,"i":0.761,"f":0.063},{"d":6,"E":6,"o":0.846,"i":0.761,"f":0.074},{"d":6,"E":7,"o":0.853,"i":0.761,"f":0.083},{"d":6,"E":8,"o":0.859,"i":0.761,"f":0.091},{"d":6,"E":9,"o":0.864,"i":0.761,"f":0.098},{"d":6,"E":10,"o":0.869,"i":0.762,"f":0.103},{"d":6,"E":11,"o":0.873,"i":0.762,"f":0.107},{"d":6,"E":12,"o":0.876,"i":0.762,"f":0.111},{"d":6,"E":13,"o":0.879,"i":0.763,"f":0.114},{"d":6,"E":14,"o":0.881,"i":0.764,"f":0.117},{"d":6,"E":15,"o":0.883,"i":0.764,"f":0.119},{"d":6,"E":16,"o":0.885,"i":0.765,"f":0.122},{"d":6,"E":17,"o":0.887,"i":0.765,"f":0.123},{"d":6,"E":18,"o":0.888,"i":0.766,"f":0.125},{"d":6,"E":19,"o":0.89,"i":0.767,"f":0.126},{"d":6,"E":20,"o":0.891,"i":0.767,"f":0.126},{"d":6,"E":21,"o":0.884,"i":0.764,"f":0.124},{"d":6,"E":22,"o":0.878,"i":0.76,"f":0.12},{"d":6,"E":23,"o":0.888,"i":0.766,"f":0.128},{"d":6,"E":24,"o":0.872,"i":0.755,"f":0.115},{"d":6,"E":25,"o":0.88,"i":0.762,"f":0.122},{"d":6,"E":26,"o":0.865,"i":0.75,"f":0.108},{"d":6,"E":27,"o":0.89,"i":0.765,"f":0.126},{"d":6,"E":28,"o":0.87,"i":0.745,"f":0.1},{"d":6,"E":29,"o":0.882,"i":0.758,"f":0.118},{"d":6,"E":30,"o":0.86,"i":0.74,"f":0.09},{"d":6,"E":31,"o":0.895,"i":0.768,"f":0.125},{"d":6,"E":32,"o":0.875,"i":0.735,"f":0.11},{"d":6,"E":33,"o":0.868,"i":0.755,"f":0.13},{"d":6,"E":34,"o":0.9,"i":0.725,"f":0.085},{"d":6,"E":35,"o":0.855,"i":0.76,"f":0.118},{"d":6,"E":36,"o":0.885,"i":0.715,"f":0.055},{"d":6,"E":37,"o":0.91,"i":0.745,"f":0.135},{"d":6,"E":38,"o":0.865,"i":0.7,"f":0.092},{"d":6,"E":39,"o":0.89,"i":0.73,"f":0.06},{"d":6,"E":40,"o":0.845,"i":0.69,"f":0.14},{"d":6,"E":41,"o":0.92,"i":0.755,"f":0.1},{"d":6,"E":42,"o":0.875,"i":0.7,"f":0.12},{"d":6,"E":43,"o":0.9,"i":0.735,"f":0.08},{"d":6,"E":44,"o":0.86,"i":0.65,"f":0.15},{"d":6,"E":45,"o":0.935,"i":0.72,"f":0.095},{"d":6,"E":46,"o":0.87,"i":0.68,"f":0.115},{"d":6,"E":47,"o":0.905,"i":0.74,"f":0.13},{"d":6,"E":48,"o":0.98,"i":0.62,"f":0.17},{"d":6,"E":49,"o":0.85,"i":0.7,"f":0.105},{"d":6,"E":50,"o":0.915,"i":0.73,"f":0.145},
{"d":7,"E":1,"o":0.83,"i":0.81,"f":0.022},{"d":7,"E":2,"o":0.83,"i":0.81,"f":0.025},{"d":7,"E":3,"o":0.817,"i":0.773,"f":0.039},{"d":7,"E":4,"o":0.826,"i":0.763,"f":0.051},{"d":7,"E":5,"o":0.836,"i":0.761,"f":0.062},{"d":7,"E":6,"o":0.844,"i":0.76,"f":0.072},{"d":7,"E":7,"o":0.85,"i":0.76,"f":0.082},{"d":7,"E":8,"o":0.856,"i":0.761,"f":0.089},{"d":7,"E":9,"o":0.861,"i":0.761,"f":0.096},{"d":7,"E":10,"o":0.865,"i":0.761,"f":0.101},{"d":7,"E":11,"o":0.869,"i":0.761,"f":0.105},{"d":7,"E":12,"o":0.872,"i":0.762,"f":0.109},{"d":7,"E":13,"o":0.874,"i":0.762,"f":0.112},{"d":7,"E":14,"o":0.877,"i":0.763,"f":0.115},{"d":7,"E":15,"o":0.878,"i":0.763,"f":0.117},{"d":7,"E":16,"o":0.88,"i":0.764,"f":0.119},{"d":7,"E":17,"o":0.881,"i":0.764,"f":0.121},{"d":7,"E":18,"o":0.883,"i":0.764,"f":0.122},{"d":7,"E":19,"o":0.884,"i":0.765,"f":0.123},{"d":7,"E":20,"o":0.885,"i":0.765,"f":0.123},{"d":7,"E":21,"o":0.879,"i":0.763,"f":0.12},{"d":7,"E":22,"o":0.872,"i":0.758,"f":0.116},{"d":7,"E":23,"o":0.882,"i":0.765,"f":0.124},{"d":7,"E":24,"o":0.866,"i":0.752,"f":0.11},{"d":7,"E":25,"o":0.875,"i":0.76,"f":0.085},{"d":7,"E":26,"o":0.86,"i":0.745,"f":0.118},{"d":7,"E":27,"o":0.884,"i":0.762,"f":0.104},{"d":7,"E":28,"o":0.868,"i":0.74,"f":0.122},{"d":7,"E":29,"o":0.855,"i":0.755,"f":0.095},{"d":7,"E":30,"o":0.878,"i":0.735,"f":0.115},{"d":7,"E":31,"o":0.89,"i":0.765,"f":0.13},{"d":7,"E":32,"o":0.85,"i":0.728,"f":0.1},{"d":7,"E":33,"o":0.872,"i":0.75,"f":0.125},{"d":7,"E":34,"o":0.895,"i":0.72,"f":0.088},{"d":7,"E":35,"o":0.862,"i":0.745,"f":0.14},{"d":7,"E":36,"o":0.845,"i":0.69,"f":0.11},{"d":7,"E":37,"o":0.88,"i":0.738,"f":0.15},{"d":7,"E":38,"o":0.905,"i":0.71,"f":0.175},{"d":7,"E":39,"o":0.855,"i":0.725,"f":0.095},{"d":7,"E":40,"o":0.875,"i":0.68,"f":0.12},{"d":7,"E":41,"o":0.84,"i":0.75,"f":0.16},{"d":7,"E":42,"o":0.915,"i":0.7,"f":0.1},{"d":7,"E":43,"o":0.865,"i":0.675,"f":0.135},{"d":7,"E":44,"o":0.895,"i":0.73,"f":0.115},{"d":7,"E":45,"o":0.85,"i":0.66,"f":0.17},{"d":7,"E":46,"o":0.925,"i":0.71,"f":0.09},{"d":7,"E":47,"o":0.87,"i":0.69,"f":0.02},{"d":7,"E":48,"o":0.9,"i":0.61,"f":0.2},{"d":7,"E":49,"o":0.96,"i":0.72,"f":0.39},{"d":7,"E":50,"o":0.885,"i":0.7,"f":0.14},
{"d":8,"E":1,"o":0.83,"i":0.81,"f":0.022},{"d":8,"E":2,"o":0.83,"i":0.81,"f":0.025},{"d":8,"E":3,"o":0.817,"i":0.773,"f":0.038},{"d":8,"E":4,"o":0.825,"i":0.763,"f":0.05},{"d":8,"E":5,"o":0.834,"i":0.76,"f":0.061},{"d":8,"E":6,"o":0.842,"i":0.76,"f":0.071},{"d":8,"E":7,"o":0.847,"i":0.76,"f":0.08},{"d":8,"E":8,"o":0.853,"i":0.76,"f":0.087},{"d":8,"E":9,"o":0.858,"i":0.761,"f":0.094},{"d":8,"E":10,"o":0.862,"i":0.761,"f":0.099},{"d":8,"E":11,"o":0.866,"i":0.761,"f":0.103},{"d":8,"E":12,"o":0.868,"i":0.761,"f":0.107},{"d":8,"E":13,"o":0.87,"i":0.762,"f":0.11},{"d":8,"E":14,"o":0.873,"i":0.762,"f":0.112},{"d":8,"E":15,"o":0.874,"i":0.762,"f":0.114},{"d":8,"E":16,"o":0.875,"i":0.762,"f":0.116},{"d":8,"E":17,"o":0.877,"i":0.763,"f":0.118},{"d":8,"E":18,"o":0.878,"i":0.763,"f":0.119},{"d":8,"E":19,"o":0.879,"i":0.763,"f":0.119},{"d":8,"E":20,"o":0.881,"i":0.763,"f":0.12},{"d":8,"E":21,"o":0.876,"i":0.762,"f":0.118},{"d":8,"E":22,"o":0.87,"i":0.757,"f":0.113},{"d":8,"E":23,"o":0.88,"i":0.763,"f":0.12},{"d":8,"E":24,"o":0.862,"i":0.75,"f":0.105},{"d":8,"E":25,"o":0.872,"i":0.758,"f":0.115},{"d":8,"E":26,"o":0.855,"i":0.742,"f":0.1},{"d":8,"E":27,"o":0.868,"i":0.755,"f":0.112},{"d":8,"E":28,"o":0.85,"i":0.735,"f":0.09},{"d":8,"E":29,"o":0.88,"i":0.75,"f":0.118},{"d":8,"E":30,"o":0.845,"i":0.728,"f":0.095},{"d":8,"E":31,"o":0.87,"i":0.745,"f":0.105},{"d":8,"E":32,"o":0.858,"i":0.72,"f":0.125},{"d":8,"E":33,"o":0.885,"i":0.742,"f":0.085},{"d":8,"E":34,"o":0.84,"i":0.712,"f":0.11},{"d":8,"E":35,"o":0.875,"i":0.7,"f":0.13},{"d":8,"E":36,"o":0.862,"i":0.738,"f":0.1},{"d":8,"E":37,"o":0.895,"i":0.705,"f":0.12},{"d":8,"E":38,"o":0.848,"i":0.725,"f":0.09},{"d":8,"E":39,"o":0.88,"i":0.69,"f":0.145},{"d":8,"E":40,"o":0.838,"i":0.715,"f":0.105},{"d":8,"E":41,"o":0.905,"i":0.68,"f":0.13},{"d":8,"E":42,"o":0.86,"i":0.735,"f":0.085},{"d":8,"E":43,"o":0.885,"i":0.67,"f":0.14},{"d":8,"E":44,"o":0.845,"i":0.705,"f":0.11},{"d":8,"E":45,"o":0.915,"i":0.66,"f":0.15},{"d":8,"E":46,"o":0.87,"i":0.69,"f":0.095},{"d":8,"E":47,"o":0.95,"i":0.64,"f":0.18},{"d":8,"E":48,"o":0.855,"i":0.72,"f":0.26},{"d":8,"E":49,"o":0.935,"i":0.65,"f":0.12},{"d":8,"E":50,"o":0.89,"i":0.7,"f":0.2},
{"d":9,"E":1,"o":0.83,"i":0.81,"f":0.021},{"d":9,"E":2,"o":0.83,"i":0.81,"f":0.024},{"d":9,"E":3,"o":0.816,"i":0.772,"f":0.037},{"d":9,"E":4,"o":0.823,"i":0.762,"f":0.049},{"d":9,"E":5,"o":0.832,"i":0.76,"f":0.059},{"d":9,"E":6,"o":0.839,"i":0.76,"f":0.07},{"d":9,"E":7,"o":0.845,"i":0.76,"f":0.079},{"d":9,"E":8,"o":0.85,"i":0.76,"f":0.086},{"d":9,"E":9,"o":0.855,"i":0.76,"f":0.092},{"d":9,"E":10,"o":0.859,"i":0.76,"f":0.097},{"d":9,"E":11,"o":0.862,"i":0.76,"f":0.101},{"d":9,"E":12,"o":0.864,"i":0.761,"f":0.104},{"d":9,"E":13,"o":0.866,"i":0.761,"f":0.107},{"d":9,"E":14,"o":0.869,"i":0.761,"f":0.11},{"d":9,"E":15,"o":0.87,"i":0.761,"f":0.112},{"d":9,"E":16,"o":0.871,"i":0.761,"f":0.114},{"d":9,"E":17,"o":0.872,"i":0.761,"f":0.115},{"d":9,"E":18,"o":0.873,"i":0.762,"f":0.116},{"d":9,"E":19,"o":0.875,"i":0.762,"f":0.116},{"d":9,"E":20,"o":0.876,"i":0.762,"f":0.117},{"d":9,"E":21,"o":0.872,"i":0.76,"f":0.115},{"d":9,"E":22,"o":0.866,"i":0.755,"f":0.11},{"d":9,"E":23,"o":0.875,"i":0.762,"f":0.118},{"d":9,"E":24,"o":0.858,"i":0.748,"f":0.102},{"d":9,"E":25,"o":0.868,"i":0.756,"f":0.112},{"d":9,"E":26,"o":0.85,"i":0.74,"f":0.095},{"d":9,"E":27,"o":0.865,"i":0.752,"f":0.108},{"d":9,"E":28,"o":0.845,"i":0.733,"f":0.085},{"d":9,"E":29,"o":0.872,"i":0.748,"f":0.112},{"d":9,"E":30,"o":0.852,"i":0.725,"f":0.098},{"d":9,"E":31,"o":0.84,"i":0.74,"f":0.08},{"d":9,"E":32,"o":0.868,"i":0.715,"f":0.118},{"d":9,"E":33,"o":0.855,"i":0.735,"f":0.092},{"d":9,"E":34,"o":0.88,"i":0.708,"f":0.058},{"d":9,"E":35,"o":0.845,"i":0.725,"f":0.125},{"d":9,"E":36,"o":0.87,"i":0.695,"f":0.088},{"d":9,"E":37,"o":0.835,"i":0.718,"f":0.11},{"d":9,"E":38,"o":0.89,"i":0.685,"f":0.245},{"d":9,"E":39,"o":0.86,"i":0.705,"f":0.095},{"d":9,"E":40,"o":0.875,"i":0.672,"f":0.13},{"d":9,"E":41,"o":0.842,"i":0.7,"f":0.1},{"d":9,"E":42,"o":0.9,"i":0.62,"f":0.115},{"d":9,"E":43,"o":0.855,"i":0.69,"f":0.085},{"d":9,"E":44,"o":0.88,"i":0.65,"f":0.14},{"d":9,"E":45,"o":0.838,"i":0.575,"f":0.095},{"d":9,"E":46,"o":0.91,"i":0.68,"f":0.125},{"d":9,"E":47,"o":0.865,"i":0.56,"f":0.105},{"d":9,"E":48,"o":0.885,"i":0.64,"f":0.15},{"d":9,"E":49,"o":0.845,"i":0.6,"f":0.11},{"d":9,"E":50,"o":0.93,"i":0.69,"f":0.135},
{"d":10,"E":1,"o":0.83,"i":0.81,"f":0.02},{"d":10,"E":2,"o":0.83,"i":0.81,"f":0.022},{"d":10,"E":3,"o":0.815,"i":0.772,"f":0.035},{"d":10,"E":4,"o":0.822,"i":0.762,"f":0.048},{"d":10,"E":5,"o":0.83,"i":0.76,"f":0.058},{"d":10,"E":6,"o":0.837,"i":0.76,"f":0.068},{"d":10,"E":7,"o":0.842,"i":0.76,"f":0.077},{"d":10,"E":8,"o":0.847,"i":0.76,"f":0.084},{"d":10,"E":9,"o":0.851,"i":0.76,"f":0.09},{"d":10,"E":10,"o":0.855,"i":0.76,"f":0.095},{"d":10,"E":11,"o":0.858,"i":0.76,"f":0.099},{"d":10,"E":12,"o":0.86,"i":0.76,"f":0.102},{"d":10,"E":13,"o":0.862,"i":0.76,"f":0.105},{"d":10,"E":14,"o":0.864,"i":0.76,"f":0.107},{"d":10,"E":15,"o":0.865,"i":0.76,"f":0.109},{"d":10,"E":16,"o":0.866,"i":0.76,"f":0.111},{"d":10,"E":17,"o":0.867,"i":0.76,"f":0.112},{"d":10,"E":18,"o":0.868,"i":0.76,"f":0.113},{"d":10,"E":19,"o":0.869,"i":0.76,"f":0.113},{"d":10,"E":20,"o":0.87,"i":0.76,"f":0.113},{"d":10,"E":21,"o":0.869,"i":0.758,"f":0.112},{"d":10,"E":22,"o":0.868,"i":0.757,"f":0.111},{"d":10,"E":23,"o":0.866,"i":0.756,"f":0.109},{"d":10,"E":24,"o":0.863,"i":0.755,"f":0.107},{"d":10,"E":25,"o":0.86,"i":0.754,"f":0.105},{"d":10,"E":26,"o":0.858,"i":0.752,"f":0.104},{"d":10,"E":27,"o":0.865,"i":0.75,"f":0.1},{"d":10,"E":28,"o":0.855,"i":0.748,"f":0.106},{"d":10,"E":29,"o":0.862,"i":0.745,"f":0.098},{"d":10,"E":30,"o":0.85,"i":0.742,"f":0.102},{"d":10,"E":31,"o":0.868,"i":0.738,"f":0.095},{"d":10,"E":32,"o":0.848,"i":0.735,"f":0.104},{"d":10,"E":33,"o":0.87,"i":0.74,"f":0.09},{"d":10,"E":34,"o":0.845,"i":0.728,"f":0.1},{"d":10,"E":35,"o":0.875,"i":0.732,"f":0.11},{"d":10,"E":36,"o":0.852,"i":0.72,"f":0.092},{"d":10,"E":37,"o":0.84,"i":0.725,"f":0.23},{"d":10,"E":38,"o":0.88,"i":0.71,"f":0.105},{"d":10,"E":39,"o":0.85,"i":0.718,"f":0.088},{"d":10,"E":40,"o":0.87,"i":0.7,"f":0.12},{"d":10,"E":41,"o":0.838,"i":0.712,"f":0.095},{"d":10,"E":42,"o":0.885,"i":0.69,"f":0.11},{"d":10,"E":43,"o":0.855,"i":0.705,"f":0.08},{"d":10,"E":44,"o":0.875,"i":0.66,"f":0.125},{"d":10,"E":45,"o":0.835,"i":0.695,"f":0.1},{"d":10,"E":46,"o":0.895,"i":0.57,"f":0.115},{"d":10,"E":47,"o":0.86,"i":0.685,"f":0.09},{"d":10,"E":48,"o":0.88,"i":0.64,"f":0.13},{"d":10,"E":49,"o":0.85,"i":0.7,"f":0.105},{"d":10,"E":50,"o":0.905,"i":0.66,"f":0.31}
]},
"concat":[
{"width":163,"height":118,"data":{"name":"A"},
"title":{"text":"A","dx":-39,"dy":24},
"mark":{"type":"point","filled":true,"size":30,"opacity":1,"clip":true},
"encoding":{
"x":{"field":"E","type":"quantitative","scale":{"domain":[0,500],"nice":false},"axis":{"values":[0,100,200,300,400,500],"title":"E"}},
"y":{"field":"b","type":"quantitative","scale":{"domain":[0.5,1.0],"nice":false,"zero":false},"axis":{"values":[0.5,0.6,0.7,0.8,0.9,1.0],"format":".1f","title":"bₐₗₗ(E)"}},
"color":{"field":"s","type":"nominal","scale":{"domain":["call","sms"],"range":["#ff6a00","#3e3a42"]},"legend":{"orient":"none","legendX":119,"legendY":52,"padding":2,"symbolSize":30}},
"shape":{"field":"s","type":"nominal","scale":{"domain":["call","sms"],"range":["circle","square"]},"legend":{"orient":"none","legendX":119,"legendY":52,"padding":2,"symbolSize":30}}}},
{"width":167,"height":142,"data":{"name":"CD"},
"title":{"text":"C","dx":-44,"dy":23.5},
"encoding":{"x":{"field":"E","type":"quantitative","scale":{"domain":[0,50],"nice":false},"axis":{"values":[10,20,30,40,50],"labels":false,"title":null}}},
"layer":[
{"mark":{"type":"point","shape":"circle","filled":true,"size":28,"opacity":1,"clip":true},
"encoding":{"y":{"field":"o","type":"quantitative","scale":{"domain":[0.5,1.0],"nice":false,"zero":false},"axis":{"values":[0.6,0.7,0.8,0.9,1.0],"format":".1f","title":"p(E,d≥), pⁱⁿᵈᵉᵖ(E,d≥)"}},
"color":{"field":"d","type":"nominal","scale":{"domain":[1,2,3,4,5,6,7,8,9,10],"range":["#e8141c","#1fb33f","#13508f","#ffc20f","#ec3f8d","#21b5ee","#9fb0bd","#000000","#ff5b0a","#6a3558"]},"legend":null}}},
{"mark":{"type":"point","shape":"circle","filled":false,"size":20,"strokeWidth":1.3,"opacity":1,"clip":true},
"encoding":{"y":{"field":"i","type":"quantitative","scale":{"domain":[0.5,1.0],"nice":false,"zero":false},"axis":{"values":[0.6,0.7,0.8,0.9,1.0],"format":".1f","title":"p(E,d≥), pⁱⁿᵈᵉᵖ(E,d≥)"}},
"color":{"field":"d","type":"nominal","scale":{"domain":[1,2,3,4,5,6,7,8,9,10],"range":["#e8141c","#1fb33f","#13508f","#ffc20f","#ec3f8d","#21b5ee","#9fb0bd","#000000","#ff5b0a","#6a3558"]},"legend":null}}}]},
{"width":163,"height":140,"data":{"name":"B"},
"title":{"text":"B","dx":-39,"dy":29},
"mark":{"type":"point","size":26,"strokeWidth":1.2,"opacity":1,"clip":true},
"encoding":{
"x":{"field":"E","type":"quantitative","scale":{"domain":[0,500],"nice":false},"axis":{"values":[0,100,200,300,400,500],"title":"E"}},
"y":{"field":"p","type":"quantitative","scale":{"domain":[0.5,1.0],"nice":false,"zero":false},"axis":{"values":[0.5,0.6,0.7,0.8,0.9,1.0],"format":".1f","title":"p(E), pⁱⁿᵈᵉᵖ(E)"}},
"shape":{"field":"s","type":"nominal","scale":{"domain":["call","call indep","sms indep","sms"],"range":["circle","circle","square","square"]},"legend":{"orient":"none","legendX":93,"legendY":45,"padding":2,"symbolSize":26,"symbolStrokeWidth":1.2}},
"stroke":{"field":"s","type":"nominal","scale":{"domain":["call","call indep","sms indep","sms"],"range":["#d40000","#ffbf00","#1a9e1a","#0b4a8b"]},"legend":{"orient":"none","legendX":93,"legendY":45,"padding":2,"symbolSize":26,"symbolStrokeWidth":1.2}},
"fill":{"field":"s","type":"nominal","scale":{"domain":["call","call indep","sms indep","sms"],"range":["#d40000","transparent","transparent","#0b4a8b"]},"legend":{"orient":"none","legendX":93,"legendY":45,"padding":2,"symbolSize":26,"symbolStrokeWidth":1.2}}}},
{"width":167,"height":140,
"title":{"text":"D","dx":-44,"dy":42},
"layer":[
{"data":{"name":"CD"},
"mark":{"type":"square","size":30,"opacity":1,"clip":true},
"encoding":{
"x":{"field":"E","type":"quantitative","scale":{"domain":[0,50],"nice":false},"axis":{"values":[10,20,30,40,50],"title":"E"}},
"y":{"field":"f","type":"quantitative","scale":{"domain":[0,0.5],"nice":false},"axis":{"values":[0,0.1,0.2,0.3,0.4,0.5],"format":".1f","title":"pᵈⁱᶠᶠ(E,d≥)"}},
"color":{"field":"d","type":"nominal","scale":{"domain":[1,2,3,4,5,6,7,8,9,10],"range":["#e8141c","#1fb33f","#13508f","#ffc20f","#ec3f8d","#21b5ee","#9fb0bd","#000000","#ff5b0a","#6a3558"]},"legend":null}}},
{"data":{"values":[]},
"mark":{"type":"point","filled":true,"opacity":1},
"encoding":{
"shape":{"field":"k","type":"nominal","scale":{"domain":[1,2,3,4,5,6,7,8,9,10,"orig","indep","diff"," ","  "],"range":["circle","circle","circle","circle","circle","circle","circle","circle","circle","circle","circle","circle","square","circle","circle"]},
"legend":{"orient":"none","legendX":8,"legendY":-24,"columns":3,"columnPadding":0,"padding":4,"rowPadding":1.5,"labelFontSize":10,"symbolSize":28,"symbolStrokeWidth":1.3,"labelColor":"#000","labelExpr":"isNumber(datum.value) ? 'd≥ =' + datum.value : datum.label"}},
"fill":{"field":"k","type":"nominal","scale":{"domain":[1,2,3,4,5,6,7,8,9,10,"orig","indep","diff"," ","  "],"range":["#e8141c","#1fb33f","#13508f","#ffc20f","#ec3f8d","#21b5ee","#9fb0bd","#000000","#ff5b0a","#6a3558","#000000","#ffffff","#000000","transparent","transparent"]},
"legend":{"orient":"none","legendX":8,"legendY":-24,"columns":3,"columnPadding":0,"padding":4,"rowPadding":1.5,"labelFontSize":10,"symbolSize":28,"symbolStrokeWidth":1.3,"labelColor":"#000","labelExpr":"isNumber(datum.value) ? 'd≥ =' + datum.value : datum.label"}},
"stroke":{"field":"k","type":"nominal","scale":{"domain":[1,2,3,4,5,6,7,8,9,10,"orig","indep","diff"," ","  "],"range":["transparent","transparent","transparent","transparent","transparent","transparent","transparent","transparent","transparent","transparent","transparent","#000000","transparent","transparent","transparent"]},
"legend":{"orient":"none","legendX":8,"legendY":-24,"columns":3,"columnPadding":0,"padding":4,"rowPadding":1.5,"labelFontSize":10,"symbolSize":28,"symbolStrokeWidth":1.3,"labelColor":"#000","labelExpr":"isNumber(datum.value) ? 'd≥ =' + datum.value : datum.label"}}}}
]}
]
}
